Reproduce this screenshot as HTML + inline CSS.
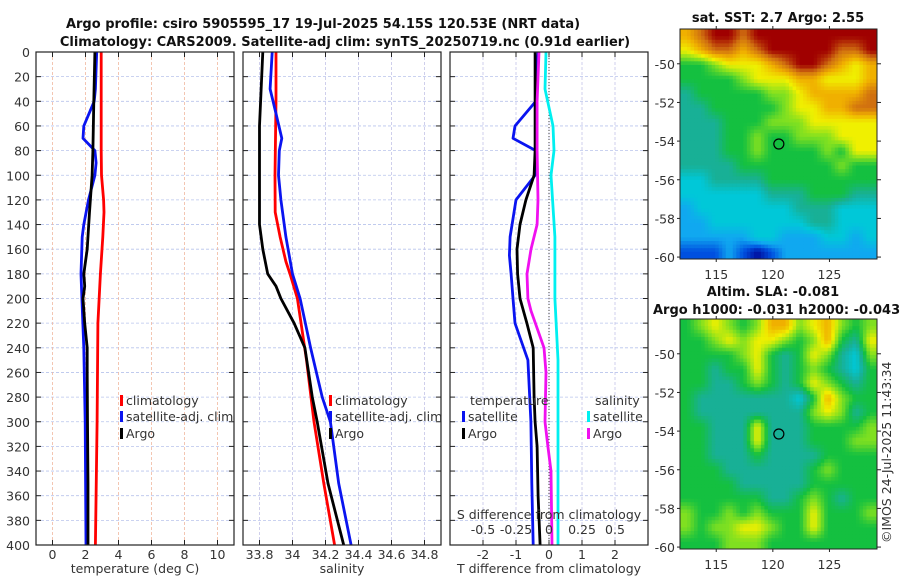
<!DOCTYPE html>
<html><head><meta charset="utf-8">
<style>
html,body{margin:0;padding:0;background:#fff;}
svg{display:block;font-family:"DejaVu Sans","Liberation Sans",sans-serif;}
.t{font-size:12.5px;fill:#333;}
.b{font-weight:bold;fill:#111;font-size:13px;}
</style></head>
<body>
<svg id="fig" width="900" height="580" viewBox="0 0 900 580" xmlns="http://www.w3.org/2000/svg">
<text class="b" x="323" y="28" text-anchor="middle">Argo profile: csiro 5905595_17 19-Jul-2025 54.15S 120.53E (NRT data)</text>
<text class="b" x="345" y="46" text-anchor="middle">Climatology: CARS2009. Satellite-adj clim: synTS_20250719.nc (0.91d earlier)</text>
<text class="b" x="778" y="22" text-anchor="middle">sat. SST: 2.7 Argo: 2.55</text>
<text class="b" x="773" y="296" text-anchor="middle">Altim. SLA: -0.081</text>
<text class="b" x="653" y="314">Argo h1000: -0.031 h2000: -0.043</text>
<text class="t" x="0" y="0" transform="translate(891,543) rotate(-90)">©IMOS 24-Jul-2025 11:43:34</text>
<g id="layer"></g>
</svg>
<script>
// ---------- data ----------
const depthTicks = [0,20,40,60,80,100,120,140,160,180,200,220,240,260,280,300,320,340,360,380,400];
// temperature (deg C)
const tClimDepth = [0,40,80,100,120,130,150,180,220,300,400];
const tClim = [2.95,2.95,2.95,2.97,3.1,3.12,3.05,2.9,2.75,2.7,2.6];
const tSatDepth = [0,30,40,60,70,80,90,100,120,140,150,180,200,240,300,400];
const tSat = [2.68,2.6,2.53,1.9,1.85,2.57,2.64,2.57,2.18,1.9,1.8,1.73,1.78,1.9,1.98,2.03];
const tArgoDepth = [0,40,80,100,130,160,170,180,190,200,220,240,260,300,350,400];
const tArgo = [2.57,2.5,2.45,2.4,2.24,2.1,2.0,1.9,1.95,1.85,1.95,2.1,2.1,2.12,2.15,2.15];
// salinity
const sClimDepth = [0,40,100,130,150,170,180,200,250,300,350,400];
const sClim = [33.9,33.9,33.894,33.895,33.925,33.96,33.985,34.03,34.085,34.13,34.19,34.255];
const sSatDepth = [0,30,50,70,80,100,120,150,180,200,240,280,300,350,400];
const sSat = [33.877,33.864,33.9,33.935,33.92,33.915,33.93,33.96,34.0,34.046,34.11,34.18,34.23,34.28,34.355];
const sArgoDepth = [0,60,100,140,160,180,190,200,220,240,280,300,350,400];
const sArgo = [33.82,33.8,33.8,33.8,33.82,33.85,33.9,33.93,34.01,34.075,34.12,34.15,34.215,34.31];
// differences from climatology
const dTArgoDepth = [0,40,80,100,120,140,160,180,200,220,240,280,300,320,360,400];
const dTArgo = [-0.42,-0.42,-0.42,-0.45,-0.7,-0.88,-0.97,-0.95,-0.88,-0.67,-0.48,-0.45,-0.42,-0.36,-0.33,-0.27];
const dTSatDepth = [0,40,60,70,80,100,120,150,165,180,200,220,250,300,350,400];
const dTSat = [-0.33,-0.4,-1.03,-1.09,-0.4,-0.42,-1.0,-1.18,-1.2,-1.15,-1.09,-1.03,-0.64,-0.55,-0.52,-0.48];
const dSArgoDepth = [0,40,80,120,140,160,180,200,210,240,260,300,320,340,400];
const dSArgo = [-0.076,-0.09,-0.09,-0.083,-0.09,-0.136,-0.167,-0.16,-0.136,-0.038,-0.023,-0.03,-0.008,0.015,0.023];
const dSSatDepth = [0,30,60,80,100,150,200,250,300,400];
const dSSat = [-0.023,-0.03,0.03,0.038,0.015,0.045,0.045,0.068,0.068,0.068];
const tTicks = [0,2,4,6,8,10];
const sTicks = [33.8,34,34.2,34.4,34.6,34.8];
const dTTicks = [-2,-1,0,1,2];
const dSTickLabels = ["-0.5","-0.25","0","0.25","0.5"];
// maps (colour index 0..10)
const latTicks = [-50,-52,-54,-56,-58,-60];
const lonTicks = [115,120,125];
const argoLon = 120.53, argoLat = -54.15;
const sstGrid = [
[8,9,10,10,9,10,10,10,10,10,10,10,10,10],
[7,8,9,9,8,9,10,10,10,10,10,9,9,10],
[5,5,6,7,7,7,8,9,10,10,9,8,7,8],
[5,5,5,5,6,7,7,7,8,8,7,7,7,8],
[4,5,5,5,5,5,6,6,7,8,8,8,8,9],
[4,4,5,5,5,5,5,6,7,7,8,8,9,9],
[4,4,4,5,5,5,6,6,6,7,7,7,7,7],
[4,4,4,5,5,6,5,5,6,6,6,7,7,7],
[4,4,4,5,5,6,5,5,5,5,6,5,7,7],
[4,4,4,4,5,5,5,5,5,5,5,6,5,5],
[3,3,4,4,4,4,5,5,5,5,5,5,5,5],
[3,3,3,3,3,3,4,4,4,5,5,5,4,4],
[2,3,3,3,3,3,3,3,4,4,4,3,3,3],
[2,2,3,3,3,3,3,3,3,4,4,3,3,3],
[2,2,2,2,2,3,3,2,2,2,3,3,2,3],
[1,1,1,2,1,0,1,2,2,2,2,2,2,2]];
const slaGrid = [
[5,6,7,6,5,6,8,8,6,7,8,6,5,6],
[5,5,6,7,6,7,7,6,5,6,8,5,4,7],
[5,5,5,5,6,7,5,4,5,7,6,4,3,6],
[5,5,4,5,5,7,5,4,5,6,5,4,3,5],
[5,5,4,4,5,6,5,4,5,7,6,5,4,5],
[5,4,4,4,4,4,4,4,3,5,8,6,5,5],
[5,4,4,4,4,4,4,4,4,6,7,6,4,5],
[5,5,4,4,4,7,4,4,4,5,5,5,5,6],
[5,5,4,4,4,7,4,4,4,5,5,5,6,6],
[5,5,4,4,4,5,4,4,4,4,5,5,5,5],
[5,5,5,4,4,4,4,4,4,5,6,5,5,5],
[5,5,5,5,4,4,4,4,4,5,5,5,5,5],
[5,5,5,5,5,5,4,4,5,6,5,4,5,5],
[6,5,5,6,5,6,5,5,5,7,5,5,5,6],
[6,5,6,6,7,7,6,5,5,7,5,5,5,5],
[5,5,5,6,6,6,5,5,5,5,5,5,5,5]];
const paletteRGB = [[0,16,160],[0,80,224],[16,168,240],[0,200,216],[24,176,150],[20,192,64],[128,224,32],[240,240,0],[240,176,0],[208,112,16],[160,0,0]];

// ---------- drawing ----------
const NS="http://www.w3.org/2000/svg";
const layer=document.getElementById('layer');
function el(tag,attrs,parent){const e=document.createElementNS(NS,tag);for(const k in attrs)e.setAttribute(k,attrs[k]);(parent||layer).appendChild(e);return e;}
const Y0=52,Y1=545;
const yD=d=>Y0+(d/400)*(Y1-Y0);

function panel(x0,x1,xmin,xmax,name){
  const sx=v=>x0+(v-xmin)/(xmax-xmin)*(x1-x0);
  const g=el('g',{});
  
  
  return {sx,g,x0,x1};
}
function frame(p,vgrid,vcol){
  for(const d of depthTicks){
    const l=el('line',{x1:p.x0,x2:p.x1,y1:yD(d),y2:yD(d),stroke:'#b8c4ec','stroke-width':0.8,'stroke-dasharray':'3,2'},p.g);
    
    
    el('line',{x1:p.x0,x2:p.x0+5,y1:yD(d),y2:yD(d),stroke:'#222'},p.g);
    el('line',{x1:p.x1-5,x2:p.x1,y1:yD(d),y2:yD(d),stroke:'#222'},p.g);
  }
  for(const v of vgrid){
    const x=p.sx(v);
    const l=el('line',{x1:x,x2:x,y1:Y0,y2:Y1,stroke:vcol,'stroke-width':0.8,'stroke-dasharray':'3,2'},p.g);
    
    
    el('line',{x1:x,x2:x,y1:Y1,y2:Y1-5,stroke:'#222'},p.g);
    el('line',{x1:x,x2:x,y1:Y0,y2:Y0+5,stroke:'#222'},p.g);
  }
}
function border(p){el('rect',{x:p.x0,y:Y0,width:p.x1-p.x0,height:Y1-Y0,fill:'none',stroke:'#222','stroke-width':1.2},p.g);}
function line(p,ds,vs,col,name,conv){
  const pts=ds.map((d,i)=>p.sx(conv?conv(vs[i]):vs[i]).toFixed(1)+','+yD(d).toFixed(1)).join(' ');
  const l=el('polyline',{points:pts,fill:'none',stroke:col,'stroke-width':2.8,'stroke-linejoin':'round'},p.g);
  
  
}
function xticks(p,vals,labels,y){
  vals.forEach((v,i)=>{const t=el('text',{x:p.sx(v),y:y,'text-anchor':'middle',class:'t'},p.g);t.textContent=labels?labels[i]:String(v);
  
  });
}
function label(txt,x,y,anchor,parent,nm){const t=el('text',{x:x,y:y,'text-anchor':anchor||'start',class:'t'},parent);t.textContent=txt;
  
  return t;}
function legendItem(p,x,y,col,txt){
  const r=el('rect',{x:x,y:y-10,width:3,height:11,fill:col},p.g);
  
  
  label(txt,x+6,y,'start',p.g,'legend-entry');
}

// Panel 1: temperature
const p1=panel(36,234,-1,11,'temperature-panel');
frame(p1,tTicks,'#f0b8a0');
line(p1,tClimDepth,tClim,'#f00','temp-climatology-line');
line(p1,tSatDepth,tSat,'#0a14f0','temp-satellite-line');
line(p1,tArgoDepth,tArgo,'#000','temp-argo-line');
border(p1);
xticks(p1,tTicks,null,559);
depthTicks.forEach(d=>label(String(d),30,yD(d)+5,'end',p1.g,'y-tick-label'));
label('temperature (deg C)',135,573,'middle',p1.g,'x-axis-title');
legendItem(p1,120,405,'#f00','climatology');
legendItem(p1,120,421,'#0a14f0','satellite-adj. clim');
legendItem(p1,120,438,'#000','Argo');

// Panel 2: salinity
const p2=panel(243,441,33.7,34.9,'salinity-panel');
frame(p2,sTicks,'#c4c4e8');
line(p2,sClimDepth,sClim,'#f00','sal-climatology-line');
line(p2,sSatDepth,sSat,'#0a14f0','sal-satellite-line');
line(p2,sArgoDepth,sArgo,'#000','sal-argo-line');
border(p2);
xticks(p2,sTicks,null,559);
label('salinity',342,573,'middle',p2.g,'x-axis-title');
legendItem(p2,329,405,'#f00','climatology');
legendItem(p2,329,421,'#0a14f0','satellite-adj. clim');
legendItem(p2,329,438,'#000','Argo');

// Panel 3: differences
const p3=panel(450,648,-3,3,'difference-panel');
frame(p3,dTTicks,'#c4c4e8');
el('line',{x1:p3.sx(0),x2:p3.sx(0),y1:Y0,y2:Y1,stroke:'#444','stroke-width':1,'stroke-dasharray':'1,2'},p3.g);
const sConv=v=>v*4;
line(p3,dTSatDepth,dTSat,'#0a14f0','dT-satellite-line');
line(p3,dTArgoDepth,dTArgo,'#000','dT-argo-line');
line(p3,dSSatDepth,dSSat,'#00f0f0','dS-satellite-line',sConv);
line(p3,dSArgoDepth,dSArgo,'#f010f0','dS-argo-line',sConv);
border(p3);
xticks(p3,dTTicks,null,559);
label('T difference from climatology',549,573,'middle',p3.g,'x-axis-title');
label('S difference from climatology',549,519,'middle',p3.g,'s-axis-title');
xticks(p3,[-2,-1,0,1,2],dSTickLabels,534);
label('temperature',470,405,'start',p3.g,'legend-title');
label('salinity',595,405,'start',p3.g,'legend-title');
legendItem(p3,462,421,'#0a14f0','satellite');
legendItem(p3,462,438,'#000','Argo');
legendItem(p3,587,421,'#00f0f0','satellite');
legendItem(p3,587,438,'#f010f0','Argo');

// Maps
function colorAt(v){
  v=Math.max(0,Math.min(10,v));const i=Math.min(9,Math.floor(v)),f=v-i;
  const a=paletteRGB[i],b=paletteRGB[i+1];
  return 'rgb('+a.map((c,k)=>Math.round(c+(b[k]-c)*f)).join(',')+')';
}
function map(grid,top,bottom,name){
  const X0=680,X1=877,lonMin=111.8,lonMax=129.2,latMax=-48.2,latMin=-60.1;
  const sx=v=>X0+(v-lonMin)/(lonMax-lonMin)*(X1-X0);
  const sy=v=>top+(latMax-v)/(latMax-latMin)*(bottom-top);
  const g=el('g',{});
  
  
  const rows=grid.length,cols=grid[0].length,U=4;
  const cw=(X1-X0)/(cols*U),ch=(bottom-top)/(rows*U);
  for(let r=0;r<rows*U;r++)for(let c=0;c<cols*U;c++){
    const fy=Math.max(0,Math.min(rows-1,(r+0.5)/U-0.5)),fx=Math.max(0,Math.min(cols-1,(c+0.5)/U-0.5));
    const r0=Math.floor(fy),c0=Math.floor(fx),r1=Math.min(rows-1,r0+1),c1=Math.min(cols-1,c0+1),ty=fy-r0,tx=fx-c0;
    const v=(grid[r0][c0]*(1-tx)+grid[r0][c1]*tx)*(1-ty)+(grid[r1][c0]*(1-tx)+grid[r1][c1]*tx)*ty;
    const rc=el('rect',{x:(X0+c*cw).toFixed(2),y:(top+r*ch).toFixed(2),width:(cw+0.5).toFixed(2),height:(ch+0.5).toFixed(2),fill:colorAt(v)},g);
    
    
  }
  el('rect',{x:X0,y:top,width:X1-X0,height:bottom-top,fill:'none',stroke:'#222','stroke-width':1},g);
  latTicks.forEach(l=>{const y=sy(l);el('line',{x1:X1,x2:X1+4,y1:y,y2:y,stroke:'#222'},g);el('line',{x1:X0-3,x2:X0,y1:y,y2:y,stroke:'#222'},g);
    label(String(l),X0-5,y+5,'end',g,'lat-tick-label');});
  lonTicks.forEach(l=>{const x=sx(l);el('line',{x1:x,x2:x,y1:bottom,y2:bottom+3,stroke:'#222'},g);el('line',{x1:x,x2:x,y1:top-3,y2:top,stroke:'#222'},g);
    label(String(l),x,bottom+20,'middle',g,'lon-tick-label');});
  const m=el('circle',{cx:sx(argoLon),cy:sy(argoLat),r:5,fill:'none',stroke:'#000','stroke-width':1.2},g);
  
  
}
map(sstGrid,29,259,'sst-map');
map(slaGrid,319,549,'sla-map');
</script>
</body></html>
